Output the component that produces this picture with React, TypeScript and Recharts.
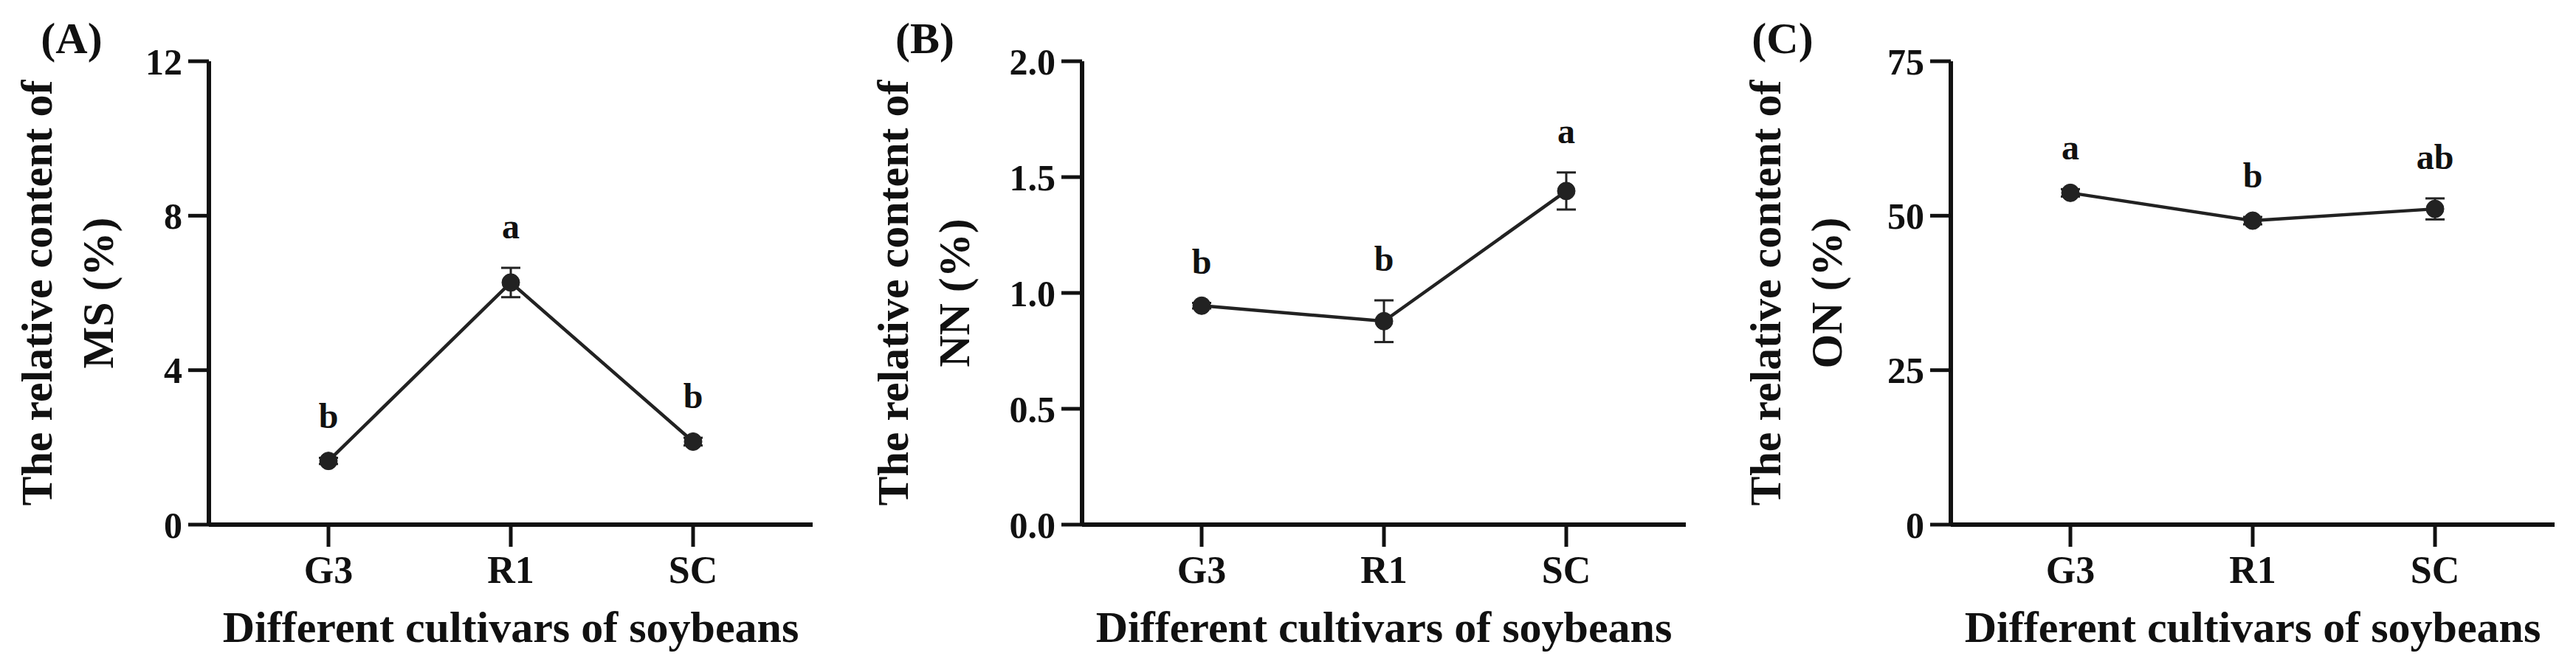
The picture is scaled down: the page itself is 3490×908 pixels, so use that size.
import React from 'react';
import { LineChart, Line, XAxis, YAxis, ErrorBar, LabelList, Label } from 'recharts';

const categories = ['G3', 'R1', 'SC'];

const msValues = [1.65, 6.27, 2.15];
const msErrors = [0.08, 0.38, 0.1];
const msLetters = ['b', 'a', 'b'];
const msTicks = [0, 4, 8, 12];

const nnValues = [0.945, 0.878, 1.44];
const nnErrors = [0.012, 0.09, 0.08];
const nnLetters = ['b', 'b', 'a'];
const nnTicks = [0, 0.5, 1.0, 1.5, 2.0];

const onValues = [53.7, 49.2, 51.1];
const onErrors = [0.6, 0.6, 1.7];
const onLetters = ['a', 'b', 'ab'];
const onTicks = [0, 25, 50, 75];

const FONT = "'Liberation Serif', 'Times New Roman', serif";
const INK = '#111';
const LINE = '#222';
const PAD = 40;

type PanelProps = {
  axisX: number;
  tag: string;
  tagX: number;
  title2: string;
  line1X: number;
  line2X: number;
  values: number[];
  errors: number[];
  letters: string[];
  ticks: number[];
  decimals: number;
};

const Panel = (p: PanelProps) => {
  const data = categories.map((c, i) => ({
    cat: c,
    v: p.values[i],
    err: p.errors[i],
    top: p.values[i] + p.errors[i],
    sig: p.letters[i],
  }));
  const yMax = p.ticks[p.ticks.length - 1];
  const midY = 397;
  const textStyle = { fontFamily: FONT, fontWeight: 'bold' as const, fill: INK };
  const yw = 283 + PAD;
  return (
    <div style={{ position: 'absolute', left: p.axisX - yw, top: 0 }}>
      <LineChart width={1130 + PAD} height={908} data={data} margin={{ top: 83, right: 29, bottom: 0, left: 0 }}>
        <XAxis
          dataKey="cat"
          type="category"
          padding={{ left: 162, right: 162 }}
          height={197}
          axisLine={{ stroke: INK, strokeWidth: 6 }}
          tickLine={{ stroke: INK, strokeWidth: 5 }}
          tickSize={30}
          tickMargin={12}
          tick={{ fontSize: 52, fontFamily: FONT, fontWeight: 'bold', fill: INK }}
        >
          <Label
            content={() => (
              <text x={yw + 409} y={870} textAnchor="middle" fontSize={60} {...textStyle}>
                Different cultivars of soybeans
              </text>
            )}
          />
        </XAxis>
        <YAxis
          width={yw}
          domain={[0, yMax]}
          ticks={p.ticks}
          interval={0}
          tickFormatter={(t: number) => t.toFixed(p.decimals)}
          axisLine={{ stroke: INK, strokeWidth: 6 }}
          tickLine={{ stroke: INK, strokeWidth: 5 }}
          tickSize={28}
          tickMargin={8}
          tick={{ fontSize: 50, fontFamily: FONT, fontWeight: 'bold', fill: INK }}
        >
          <Label
            content={() => (
              <g>
                <text x={p.tagX + PAD} y={72} textAnchor="middle" fontSize={60} {...textStyle}>
                  {p.tag}
                </text>
                <text
                  transform={`translate(${p.line1X + PAD},${midY}) rotate(-90)`}
                  textAnchor="middle"
                  fontSize={60}
                  {...textStyle}
                >
                  The relative content of
                </text>
                <text
                  transform={`translate(${p.line2X + PAD},${midY}) rotate(-90)`}
                  textAnchor="middle"
                  fontSize={60}
                  {...textStyle}
                >
                  {p.title2}
                </text>
              </g>
            )}
          />
        </YAxis>
        <Line
          dataKey="v"
          stroke={LINE}
          strokeWidth={4.5}
          dot={{ r: 12, fill: LINE, stroke: LINE, strokeWidth: 1 }}
          activeDot={false}
          isAnimationActive={false}
        >
          <ErrorBar dataKey="err" direction="y" width={13} strokeWidth={3} stroke={LINE} />
        </Line>
        <Line
          dataKey="top"
          stroke="none"
          dot={false}
          activeDot={false}
          isAnimationActive={false}
        >
          <LabelList
            dataKey="sig"
            content={(lp: any) => (
              <text
                x={lp.x}
                y={lp.y - 40}
                textAnchor="middle"
                fontSize={48}
                {...textStyle}
              >
                {lp.value}
              </text>
            )}
          />
        </Line>
      </LineChart>
    </div>
  );
}

export default function App() {
  return (
    <div style={{ position: 'absolute', left: 0, top: 0, width: 3490, height: 908, background: '#fff', overflow: 'hidden' }}>
      <Panel
        axisX={283}
        tag="(A)"
        tagX={97}
        title2="MS (%)"
        line1X={70}
        line2X={153}
        values={msValues}
        errors={msErrors}
        letters={msLetters}
        ticks={msTicks}
        decimals={0}
      />
      <Panel
        axisX={1466}
        tag="(B)"
        tagX={70}
        title2="NN (%)"
        line1X={47}
        line2X={130}
        values={nnValues}
        errors={nnErrors}
        letters={nnLetters}
        ticks={nnTicks}
        decimals={1}
      />
      <Panel
        axisX={2643}
        tag="(C)"
        tagX={55}
        title2="ON (%)"
        line1X={52}
        line2X={135}
        values={onValues}
        errors={onErrors}
        letters={onLetters}
        ticks={onTicks}
        decimals={0}
      />
    </div>
  );
}
